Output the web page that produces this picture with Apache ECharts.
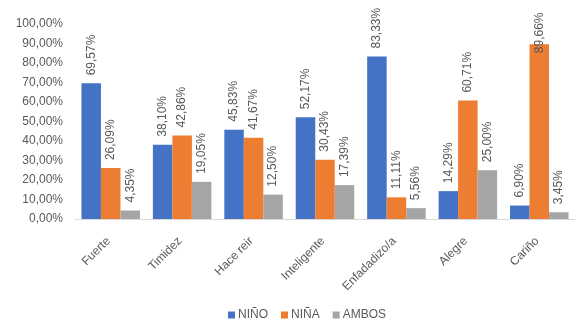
<!DOCTYPE html>
<html>
<head>
<meta charset="utf-8">
<script src="https://cdn.jsdelivr.net/npm/echarts@6/dist/echarts.min.js"></script>
<style>
  html, body { margin: 0; padding: 0; background: #fff; }
  #chart { width: 575px; height: 322px; }
</style>
</head>
<body>
<div id="chart"></div>
<script>
// categorias y valores (%)
const categories = ['Fuerte', 'Timidez', 'Hace reir', 'Inteligente', 'Enfadadizo/a', 'Alegre', 'Cariño'];
const nino = [69.57, 38.10, 45.83, 52.17, 83.33, 14.29, 6.90];
const nina = [26.09, 42.86, 41.67, 30.43, 11.11, 60.71, 89.66];
const ambos = [4.35, 19.05, 12.50, 17.39, 5.56, 25.00, 3.45];
const yTicks = [0, 10, 20, 30, 40, 50, 60, 70, 80, 90, 100];

const chart = echarts.init(document.getElementById('chart'));
const fmt = v => v.toFixed(2).replace('.', ',') + '%';
const font = 'Liberation Sans';

function makeSeries(name, data, color) {
  return {
    name: name,
    type: 'bar',
    // las etiquetas que no caben arriba se meten un poco en la barra (como Excel)
    data: data.map(v => v > 85 ? { value: v, label: { distance: -9 } } : v),
    barWidth: 19.5,
    barGap: '0%',
    itemStyle: { color: color },
    label: {
      show: true,
      position: 'top',
      rotate: 90,
      align: 'left',
      verticalAlign: 'middle',
      distance: 8,
      color: '#595959',
      fontFamily: font,
      fontSize: 12,
      formatter: p => fmt(p.value)
    }
  };
}

chart.setOption({
  animation: false,
  grid: { left: 75, right: -12, top: 24, bottom: 103, containLabel: false },
  legend: {
    bottom: 1,
    left: 228,
    padding: 0,
    itemWidth: 7,
    itemHeight: 7,
    itemGap: 13,
    icon: 'rect',
    textStyle: { color: '#595959', fontFamily: font, fontSize: 12, padding: [0, 0, 0, -2] },
    data: ['NIÑO', 'NIÑA', 'AMBOS']
  },
  xAxis: {
    type: 'category',
    data: categories,
    axisLine: { lineStyle: { color: '#d9d9d9' } },
    axisTick: { show: false },
    axisLabel: {
      rotate: 45,
      margin: 18,
      interval: 0,
      padding: [0, 3, 0, 0],
      color: '#595959',
      fontFamily: font,
      fontSize: 12
    }
  },
  yAxis: {
    type: 'value',
    min: yTicks[0],
    max: yTicks[yTicks.length - 1],
    interval: 10,
    splitLine: { show: false },
    axisLine: { show: false },
    axisTick: { show: false },
    axisLabel: {
      margin: 12,
      color: '#595959',
      fontFamily: font,
      fontSize: 12,
      formatter: v => fmt(v)
    }
  },
  series: [
    makeSeries('NIÑO', nino, '#4472C4'),
    makeSeries('NIÑA', nina, '#ED7D31'),
    makeSeries('AMBOS', ambos, '#A5A5A5')
  ]
});
</script>
</body>
</html>
